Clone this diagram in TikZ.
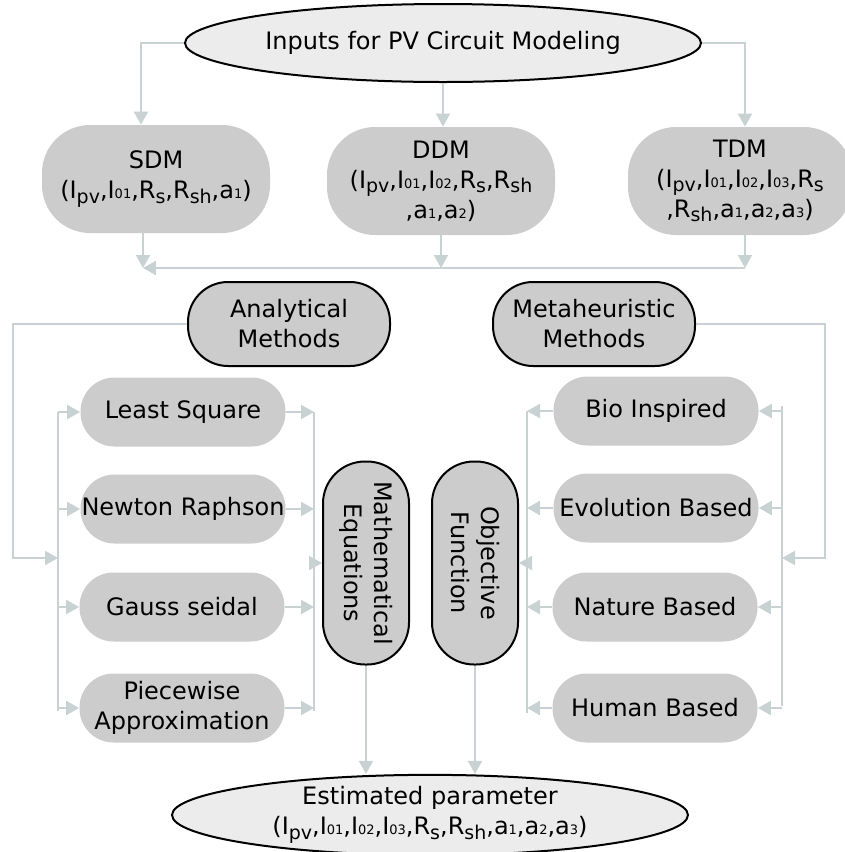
\documentclass[tikz,border=0pt]{standalone}
\usepackage{fontspec}
\setmainfont{DejaVu Sans}
\usetikzlibrary{arrows.meta,shapes.geometric,calc}
\definecolor{linegray}{RGB}{200,210,210}
\definecolor{boxgray}{RGB}{204,204,204}
\definecolor{ovalgray}{RGB}{236,236,236}
% lowered subscripts as in the figure
\newcommand{\lo}[1]{\raisebox{-0.35ex}{\fontsize{9.5}{9.5}\selectfont #1}}
\newcommand{\dg}[1]{{\fontsize{6.5}{7}\selectfont #1}}

\begin{document}
\begin{tikzpicture}[x=0.5pt,y=0.5pt,
    font=\fontsize{12}{15}\selectfont,
    oval/.style={ellipse,draw=black,line width=1pt,fill=ovalgray,inner sep=0pt,
                 minimum width=258pt,minimum height=39pt,align=center},
    model/.style={fill=boxgray,rounded corners=24pt,inner sep=0pt,align=center,
                  minimum width=114pt,minimum height=54pt},
    method/.style={fill=boxgray,draw=black,line width=1pt,rounded corners=20pt,
                   inner sep=0pt,align=center,minimum width=101pt,minimum height=42pt},
    item/.style={fill=boxgray,rounded corners=17pt,inner sep=0pt,align=center,
                 minimum width=102.5pt,minimum height=34.5pt},
    upright/.style={fill=boxgray,draw=black,line width=1pt,rounded corners=21pt,
                    inner sep=0pt,align=center,rotate=-90,
                    minimum width=101.5pt,minimum height=43pt},
    conn/.style={draw=linegray,line width=1.1pt,-{Triangle[length=6.5pt,width=7pt]}},
    bus/.style={draw=linegray,line width=1.1pt}]
\useasboundingbox (0,0) rectangle (845,-852);

% top and bottom
\node[oval] (inp) at (443,-43) {Inputs for PV Circuit Modeling};
\node[oval] (est) at (430,-815) {Estimated parameter\\(I\lo{pv},I\dg{01},I\dg{02},I\dg{03},R\lo{s},R\lo{sh},a\dg{1},a\dg{2},a\dg{3})};

% diode models
\node[model] (sdm) at (156,-179) {SDM\\(I\lo{pv},I\dg{01},R\lo{s},R\lo{sh},a\dg{1})};
\node[model] (ddm) at (441,-181) {DDM\\(I\lo{pv},I\dg{01},I\dg{02},R\lo{s},R\lo{sh}\\,a\dg{1},a\dg{2})};
\node[model,minimum width=112pt] (tdm) at (740,-181) {TDM\\(I\lo{pv},I\dg{01},I\dg{02},I\dg{03},R\lo{s}\\,R\lo{sh},a\dg{1},a\dg{2},a\dg{3})};

\draw[conn] (inp.west) -| ($(sdm.north)+(-15,0)$);
\draw[conn,line width=0.7pt] (inp.south) -- (inp.south |- ddm.north);
\draw[conn] (inp.east) -| ($(tdm.north)+(5,0)$);

\coordinate (jL) at (143,-268);
\coordinate (jR) at (745,-268);
\draw[conn] ($(sdm.south)+(-13,0)$) -- (jL);
\draw[conn] (ddm.south) -- (ddm.south |- jL);
\draw[conn] ($(tdm.south)+(5,0)$) -- (jR);
\draw[conn] (jR) -- (jL);

% two families of methods
\node[method] (ana) at (289,-324) {Analytical\\Methods};
\node[method] (meta) at (594,-324) {Metaheuristic\\Methods};

\node[item] (ls) at (183,-412) {Least Square};
\node[item] (nr) at (183,-509) {Newton Raphson};
\node[item] (gs) at (182,-607) {Gauss seidal};
\node[item] (pa) at (182,-708) {Piecewise\\Approximation};

\node[item] (bio) at (656,-411) {Bio Inspired};
\node[item] (evo) at (656,-508) {Evolution Based};
\node[item] (nat) at (655,-607) {Nature Based};
\node[item] (hum) at (655,-708) {Human Based};

% rotated: west = top, east = bottom, south = left, north = right
\node[upright] (me) at (366,-563) {Mathematical\\Equations};
\node[upright] (of) at (475,-563) {Objective\\Function};

% analytical side
\coordinate (lbT) at (58,-412);
\coordinate (lbB) at (58,-711);
\coordinate (rbT) at (314,-412);
\coordinate (rbB) at (314,-711);
\coordinate (aL) at (13,-558);
\draw[conn] (ana.west) -| (aL) -- (aL -| lbT);
\draw[bus] (lbT) -- (lbB);
\draw[bus] (rbT) -- (rbB);
\foreach \n in {ls,nr,gs,pa}{
  \draw[conn] (lbT |- \n.west) -- (\n.west);
  \draw[conn] (\n.east) -- (rbT |- \n.east);
}
\draw[conn] (rbT |- me.south) -- (me.south);

% metaheuristic side
\coordinate (mbT) at (782,-406);
\coordinate (mbB) at (782,-706);
\coordinate (mlT) at (527,-411);
\coordinate (mlB) at (527,-713);
\coordinate (mR) at (825,-558);
\draw[conn] (meta.east) -| (mR) -- (mR -| mbT);
\draw[bus] (mbT) -- (mbB);
\draw[bus] (mlT) -- (mlB);
\foreach \n in {bio,evo,nat,hum}{
  \draw[conn] (mbT |- \n.east) -- (\n.east);
  \draw[conn] (\n.west) -- (mlT |- \n.west);
}
\draw[conn] (mlT |- of.north) -- (of.north);

% to the result
\draw[conn] (me.east) -- (me.east |- est.north);
\draw[conn] (of.east) -- (of.east |- est.north);
\end{tikzpicture}
\end{document}
